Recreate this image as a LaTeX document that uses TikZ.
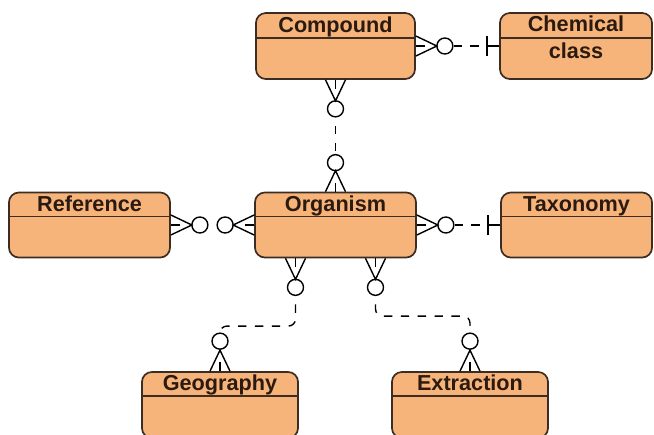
\documentclass[tikz,border=0pt]{standalone}
\usepackage{fontspec}
\setmainfont{Liberation Sans}
\usetikzlibrary{calc}
\definecolor{entfill}{HTML}{F6B47A}
\definecolor{entline}{HTML}{3C2C22}
\definecolor{enttext}{HTML}{2B1A10}
\begin{document}
\begin{tikzpicture}[x=0.025cm, y=-0.025cm,
  entity/.style={draw=entline, fill=entfill, line width=1.2pt, rounded corners=7pt,
    minimum width=4cm, minimum height=1.65cm, inner sep=0pt},
  title/.style={anchor=base, font=\fontsize{15.4}{19.2}\selectfont\bfseries,
    text=enttext, inner sep=0pt},
  hline/.style={draw=entline, line width=1pt},
  link/.style={line width=1pt, dash pattern=on 6pt off 6pt, dash phase=6pt},
  opt/.style={circle, draw, line width=1pt, minimum size=0.4cm, inner sep=0pt}]
  \tikzset{crowfoot/.pic={\draw[line width=1pt] (0,-10) -- (21,0) -- (0,10);
    \draw[line width=1pt] (0,0) -- (9,0);}}
  \tikzset{onebar/.pic={\draw[line width=1pt] (0,0) -- (12,0);
    \draw[line width=1pt] (12,-10) -- (12,10);}}
  \useasboundingbox (0,0) rectangle (654,435);
  % entities
  \node[entity, minimum width=3.975cm] (comp) at (335.5,46) {};
  \node[title] at ($(comp.north)+(0,20)$) {Compound};
  \draw[hline] ($(comp.north west)+(0,26)$) -- ($(comp.north east)+(0,26)$);
  \node[entity, minimum width=3.8cm] (chem) at (576,46) {};
  \node[title, anchor=center, align=center] at ($(chem.north)+(0,25.5)$) {Chemical\\class};
  \draw[hline] ($(chem.north west)+(0,26)$) -- ($(chem.north east)+(0,26)$);
  \node[entity, minimum width=4.025cm, minimum height=1.625cm] (ref) at (89.5,225) {};
  \node[title] at ($(ref.north)+(0,19.5)$) {Reference};
  \draw[hline] ($(ref.north west)+(0,25)$) -- ($(ref.north east)+(0,25)$);
  \node[entity, minimum width=4.025cm, minimum height=1.625cm] (org) at (335.5,225) {};
  \node[title] at ($(org.north)+(0,19.5)$) {Organism};
  \draw[hline] ($(org.north west)+(0,25)$) -- ($(org.north east)+(0,25)$);
  \node[entity, minimum width=3.775cm, minimum height=1.625cm] (tax) at (576.5,225) {};
  \node[title] at ($(tax.north)+(0,19.5)$) {Taxonomy};
  \draw[hline] ($(tax.north west)+(0,25)$) -- ($(tax.north east)+(0,25)$);
  \node[entity, minimum width=3.9cm] (geo) at (220,405) {};
  \node[title] at ($(geo.north)+(0,19.5)$) {Geography};
  \draw[hline] ($(geo.north west)+(0,25)$) -- ($(geo.north east)+(0,25)$);
  \node[entity, minimum width=3.9cm] (ext) at (470,405) {};
  \node[title] at ($(ext.north)+(0,19.5)$) {Extraction};
  \draw[hline] ($(ext.north west)+(0,25)$) -- ($(ext.north east)+(0,25)$);
  % compound - chemical class
  \pic at (comp.east) {crowfoot};
  \node[opt] (cc1) at ($(comp.east)+(29,0)$) {};
  \pic[rotate=180] at (chem.west) {onebar};
  \coordinate (cc2) at ($(chem.west)+(-12,0)$);
  \draw[link] (cc2) -- (cc1);
  % compound - organism
  \pic[rotate=-90] at (comp.south) {crowfoot};
  \node[opt] (co1) at ($(comp.south)+(0,29)$) {};
  \pic[rotate=90] at (org.north) {crowfoot};
  \node[opt] (co2) at ($(org.north)+(0,-29)$) {};
  \draw[link] (co1) -- (co2);
  % reference - organism
  \pic at (ref.east) {crowfoot};
  \node[opt] (ro1) at ($(ref.east)+(29,0)$) {};
  \pic[rotate=180] at (org.west) {crowfoot};
  \node[opt] (ro2) at ($(org.west)+(-29,0)$) {};
  % organism - taxonomy
  \pic at (org.east) {crowfoot};
  \node[opt] (ot1) at ($(org.east)+(29,0)$) {};
  \pic[rotate=180] at (tax.west) {onebar};
  \coordinate (ot2) at ($(tax.west)+(-12,0)$);
  \draw[link] (ot2) -- (ot1);
  % organism - geography
  \coordinate (ogb) at ($(org.south)+(-40,0)$);
  \pic[rotate=-90] at (ogb) {crowfoot};
  \node[opt] (og1) at ($(ogb)+(0,29)$) {};
  \pic[rotate=90] at (geo.north) {crowfoot};
  \node[opt] (og2) at ($(geo.north)+(0,-30)$) {};
  \draw[link, rounded corners=5pt] (og1.south) -- ++(0,30) -| (og2.north);
  % organism - extraction
  \coordinate (oeb) at ($(org.south)+(40,0)$);
  \pic[rotate=-90] at (oeb) {crowfoot};
  \node[opt] (oe1) at ($(oeb)+(0,29)$) {};
  \pic[rotate=90] at (ext.north) {crowfoot};
  \node[opt] (oe2) at ($(ext.north)+(0,-30)$) {};
  \draw[link, rounded corners=5pt] (oe1.south) -- ++(0,20) -| (oe2.north);
\end{tikzpicture}
\end{document}
